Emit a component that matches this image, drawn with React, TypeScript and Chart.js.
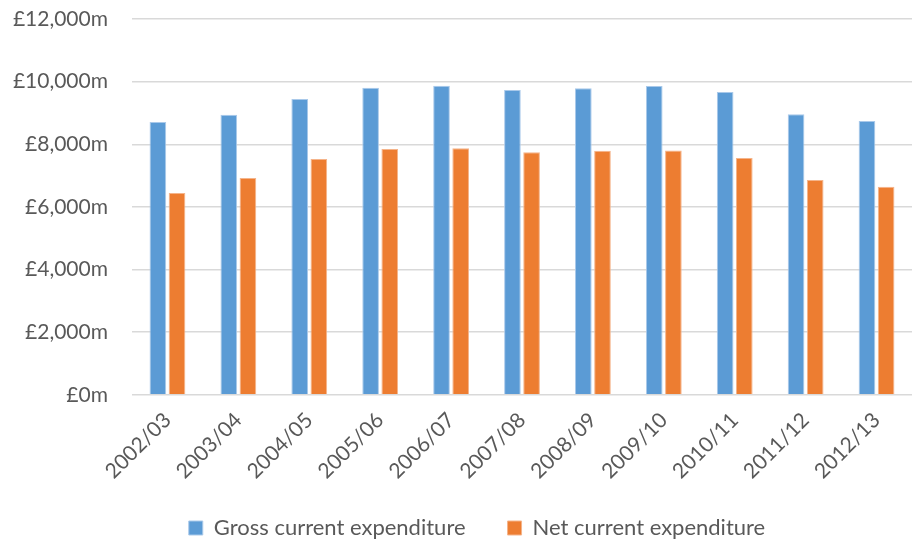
import React, { useEffect, useRef } from "react";
import { Chart, registerables } from "chart.js";

Chart.register(...registerables);

const categories = ["2002/03","2003/04","2004/05","2005/06","2006/07","2007/08","2008/09","2009/10","2010/11","2011/12","2012/13"];
const grossExpenditure = [8710, 8940, 9445, 9805, 9870, 9730, 9785, 9860, 9665, 8960, 8740];
const netExpenditure = [6440, 6920, 7530, 7850, 7875, 7745, 7790, 7800, 7565, 6860, 6645];
const seriesNames = ["Gross current expenditure", "Net current expenditure"];
const yMax = 12000;
const yStep = 2000;

const shiftLegend = {
  id: "shiftLegend",
  afterLayout(chart: any) {
    const lg = chart.legend;
    if (lg) { lg.left += 17; lg.right += 17; }
    const xs = chart.scales && chart.scales.x;
    if (xs) { xs.bottom += 30; xs.height += 30; }
  },
};

export default function App() {
  const ref = useRef<HTMLCanvasElement | null>(null);
  useEffect(() => {
    if (!ref.current) return;
    const font = "Lato, 'Open Sans', sans-serif";
    const chart = new Chart(ref.current, {
      type: "bar",
      data: {
        labels: categories,
        datasets: [
          { label: seriesNames[0], data: grossExpenditure, backgroundColor: "#5b9bd5", borderColor: "#a9c9ea", borderWidth: 1 },
          { label: seriesNames[1], data: netExpenditure, backgroundColor: "#ed7d31", borderColor: "#f5b48a", borderWidth: 1 },
        ],
      },
      options: {
        animation: false,
        responsive: false,
        maintainAspectRatio: false,
        layout: { padding: { top: 19, right: 2, left: 8, bottom: -6 } },
        datasets: { bar: { categoryPercentage: 0.54, barPercentage: 0.87 } },
        plugins: {
          legend: {
            position: "bottom",
            labels: { boxWidth: 14, boxHeight: 14, padding: 42, color: "#595959", font: { family: font, size: 22 } },
          },
          tooltip: { enabled: false },
        },
        scales: {
          x: {
            grid: { display: false },
            border: { display: false },
            ticks: { minRotation: 45, maxRotation: 45, color: "#595959", font: { family: font, size: 21 }, padding: 5 },
            afterFit: (s: any) => { s.height = s.height - 14; },
          },
          y: {
            min: 0,
            max: yMax,
            border: { display: false },
            grid: { color: "#d9d9d9", lineWidth: 1.5, drawTicks: false },
            ticks: {
              stepSize: yStep,
              color: "#595959",
              padding: 24,
              font: { family: font, size: 21 },
              callback: (v: any) => "£" + Number(v).toLocaleString("en-GB") + "m",
            },
            afterFit: (s: any) => { s.width = 124; s.paddingTop = 0; s.paddingBottom = 0; },
          },
        },
      },
      plugins: [shiftLegend],
    });
    return () => chart.destroy();
  }, []);
  return (
    <div style={{ position: "absolute", left: 0, top: 0, width: 914, height: 543, background: "#fff" }}>
      <canvas ref={ref} width={914} height={543} />
    </div>
  );
}
